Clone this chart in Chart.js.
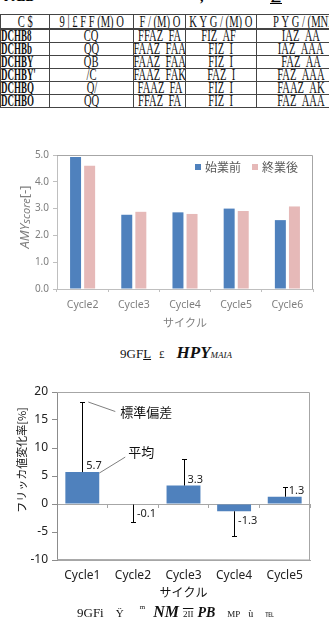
<!DOCTYPE html>
<html lang="ja">
<head>
<meta charset="UTF-8">
<title>AMY score / フリッカ値変化率</title>
<style>
  body { margin: 0; width: 329px; height: 624px; overflow: hidden; background: #fff; position: relative; }
  canvas { position: absolute; left: 0; }
  #amyChart { top: 138px; }
  #flickerChart { top: 380px; }
  .tbl { position: absolute; left: 0; top: 14px; width: 345px; border-collapse: collapse; table-layout: fixed;
         font-family: "Liberation Serif", serif; font-size: 16px; color: #111; }
  .tbl td { border: 1px solid #444; height: 12px; padding: 0; line-height: 12px; text-align: center; overflow: hidden; white-space: nowrap; }
  .tbl tr.head td { height: 13px; border-bottom: 2px solid #444; }
  .tbl span { display: inline-block; margin: 0 -40px; transform: scaleX(0.66); }
  .tbl td.l { text-align: left; }
  .tbl td.l span { margin: 0 -40px 0 0; transform-origin: left center; transform: scaleX(0.56); font-weight: bold; }
  .cap { position: absolute; font-family: "Liberation Serif", serif; color: #111; white-space: nowrap; }
  .top { position: absolute; top: -11px; font-family: "Liberation Serif", serif; font-size: 14px; font-weight: bold; }
</style>
</head>
<body>
<div class="top" style="left:4px">ï ÆD</div>
<div class="top" style="left:200px">,</div>
<div class="top" style="left:270px;text-decoration:underline">∠</div>

<table class="tbl">
  <colgroup><col style="width:49px"><col style="width:84px"><col style="width:52px"><col style="width:71px"><col style="width:89px"></colgroup>
  <tr class="head"><td><span>C&nbsp;$</span></td><td><span>9&nbsp;|&nbsp;£&nbsp;F&nbsp;F&nbsp;(M)&nbsp;Ö</span></td><td><span>F&nbsp;/&nbsp;(M)&nbsp;Ö</span></td><td><span>K&nbsp;Y&nbsp;G&nbsp;/&nbsp;(M)&nbsp;Ö</span></td><td class="l" style="padding-left:16px"><span style="font-weight:normal;transform:scaleX(0.66)">P&nbsp;Y&nbsp;G&nbsp;/&nbsp;(MNI</span></td></tr>
  <tr><td class="l"><span>DCHB8</span></td><td><span>CQ</span></td><td><span>FFAZ_FA</span></td><td><span>FIZ_AF_</span></td><td><span>IAZ_AA</span></td></tr>
  <tr><td class="l"><span>DCHBb</span></td><td><span>QQ</span></td><td><span>FAAZ_FAA</span></td><td><span>FIZ_I</span></td><td><span>IAZ_AAA</span></td></tr>
  <tr><td class="l"><span>DCHBY</span></td><td><span>QB</span></td><td><span>FAAZ_FAA</span></td><td><span>FIZ_I</span></td><td><span>FAZ_AA</span></td></tr>
  <tr><td class="l"><span>DCHBY'</span></td><td><span>/C</span></td><td><span>FAAZ_FAK</span></td><td><span>FAZ_I</span></td><td><span>FAZ_AAA</span></td></tr>
  <tr><td class="l"><span>DCHBQ</span></td><td><span>Q/</span></td><td><span>FAAZ_FA</span></td><td><span>FIZ_I</span></td><td><span>FAAZ_AK</span></td></tr>
  <tr><td class="l"><span>DCHBO</span></td><td><span>QQ</span></td><td><span>FFAZ_FA</span></td><td><span>FIZ_I</span></td><td><span>FAZ_AAA</span></td></tr>
</table>

<canvas id="amyChart" width="329" height="194"></canvas>
<div class="cap" style="left:120px;top:343px"><span style="font-size:13px">9GF<u>L</u></span>&nbsp;&nbsp;<span style="font-size:11px">£</span>&nbsp;&nbsp;&nbsp;<b><i style="font-size:17px">HPY</i></b><i style="font-size:9px">MAIA</i></div>

<canvas id="flickerChart" width="329" height="224"></canvas>
<div class="cap" style="left:77px;top:603px"><span style="font-size:13px">9GFi</span>&nbsp;&nbsp;&nbsp;<span style="font-size:11px">Ÿ</span>&nbsp;&nbsp;&nbsp;&nbsp;<span style="font-size:7px;vertical-align:top">m</span>&nbsp;&nbsp;<b><i style="font-size:16px">NM</i></b>&nbsp;<span style="font-size:9px;text-decoration:overline">2II</span>&nbsp;<b><i style="font-size:14px">PB</i></b>&nbsp;&nbsp;&nbsp;<span style="font-size:9px">MP</span>&nbsp;&nbsp;<span style="font-size:10px">ù</span>&nbsp;&nbsp;&nbsp;<span style="font-size:9px">℡</span></div>

<script src="https://cdn.jsdelivr.net/npm/chart.js"></script>
<script>
    // AMY score
    const cycles1 = ['Cycle2', 'Cycle3', 'Cycle4', 'Cycle5', 'Cycle6'];
    const amyBefore = [4.93, 2.77, 2.86, 3.0, 2.57];
    const amyAfter = [4.6, 2.88, 2.8, 2.91, 3.08];
    const amyLabels = ['始業前', '終業後'];

    // フリッカ値変化率
    const cycles2 = ['Cycle1', 'Cycle2', 'Cycle3', 'Cycle4', 'Cycle5'];
    const flickerMean = [5.7, -0.1, 3.3, -1.3, 1.3];
    const flickerSd = [12.6, 3.1, 4.7, 4.4, 1.7];

    const fontSans = "'Noto Sans', 'Noto Sans CJK JP', sans-serif";
    const fontJp = "'Noto Sans CJK JP', 'Noto Sans', sans-serif";
    const blue = '#4f81bd';
    const pink = '#e6b9b8';

    function drawRotated(ctx, parts, cx, cy, color) {
        ctx.save();
        ctx.translate(cx, cy);
        ctx.rotate(-Math.PI / 2);
        let total = 0;
        parts.forEach(p => { ctx.font = p.f; p.w = ctx.measureText(p.t).width; total += p.w; });
        let x = -total / 2;
        ctx.fillStyle = color;
        ctx.textBaseline = 'middle';
        parts.forEach(p => { ctx.font = p.f; ctx.fillText(p.t, x, p.dy || 0); x += p.w; });
        ctx.restore();
    }

    const plotBox = {
        id: 'plotBox',
        afterDraw(chart, args, opts) {
            const {ctx, chartArea: a} = chart;
            ctx.save();
            ctx.strokeStyle = opts.color;
            ctx.lineWidth = 1;
            ctx.beginPath();
            ctx.moveTo(a.left, a.top + 0.5);
            ctx.lineTo(a.right - 0.5, a.top + 0.5);
            ctx.lineTo(a.right - 0.5, a.bottom);
            if (opts.bottom) ctx.lineTo(a.left, a.bottom - 0.5);
            ctx.stroke();
            ctx.restore();
        }
    };

    const cornerLegend = {
        id: 'cornerLegend',
        afterDraw(chart) {
            const {ctx, chartArea: a} = chart;
            ctx.save();
            ctx.font = '12px ' + fontJp;
            ctx.textBaseline = 'middle';
            const y = a.top + 12;
            let x = a.right - 15;
            chart.data.datasets.slice().reverse().forEach(ds => {
                const w = ctx.measureText(ds.label).width;
                x -= w;
                ctx.fillStyle = '#595959';
                ctx.fillText(ds.label, x, y);
                x -= 10;
                ctx.fillStyle = ds.backgroundColor;
                ctx.fillRect(x, y - 3, 6, 6);
                x -= 11;
            });
            ctx.restore();
        }
    };

    const amyTitle = {
        id: 'amyTitle',
        afterDraw(chart) {
            const a = chart.chartArea;
            drawRotated(chart.ctx, [
                {t: 'AMY', f: 'italic 13px ' + fontSans},
                {t: 'score', f: 'italic 11px ' + fontSans, dy: 2},
                {t: '[-]', f: '13px ' + fontSans}
            ], 25, (a.top + a.bottom) / 2 - 5, '#7f7f7f');
        }
    };

    new Chart(document.getElementById('amyChart'), {
        type: 'bar',
        data: {
            labels: cycles1,
            datasets: [
                { label: amyLabels[0], data: amyBefore, backgroundColor: blue },
                { label: amyLabels[1], data: amyAfter, backgroundColor: pink }
            ]
        },
        options: {
            responsive: false,
            animation: false,
            devicePixelRatio: 1,
            layout: { padding: { top: 17, right: 16, left: 0, bottom: 0 } },
            datasets: { bar: { categoryPercentage: 0.55, barPercentage: 0.78 } },
            plugins: {
                legend: { display: false },
                tooltip: { enabled: false },
                plotBox: { color: '#a6a6a6' }
            },
            scales: {
                x: {
                    grid: { offset: true, drawOnChartArea: false, tickLength: 3, color: '#bfbfbf' },
                    border: { color: '#bfbfbf' },
                    ticks: { color: '#7f7f7f', font: { size: 10.5, family: fontSans }, padding: 7 },
                    title: { display: true, text: 'サイクル', color: '#7f7f7f', font: { size: 11, family: fontJp }, padding: { top: 0, bottom: 3 } },
                    afterFit: s => { s.height = 43; }
                },
                y: {
                    min: 0, max: 5,
                    grid: { drawOnChartArea: false, tickLength: 4, color: '#bfbfbf' },
                    border: { color: '#bfbfbf' },
                    ticks: { stepSize: 1, color: '#7f7f7f', font: { size: 10, family: fontSans }, padding: 4,
                             callback: v => v.toFixed(1) },
                    afterFit: s => { s.width = 57; }
                }
            }
        },
        plugins: [plotBox, cornerLegend, amyTitle]
    });

    const errorBars = {
        id: 'errorBars',
        afterDatasetsDraw(chart) {
            const {ctx, scales: {y}} = chart;
            const meta = chart.getDatasetMeta(0);
            ctx.save();
            ctx.strokeStyle = '#000';
            ctx.lineWidth = 1;
            meta.data.forEach((bar, i) => {
                const m = flickerMean[i], sd = flickerSd[i];
                const end = Math.round(y.getPixelForValue(m >= 0 ? m + sd : m - sd)) + 0.5;
                const x = Math.round(bar.x) + 0.5;
                ctx.beginPath();
                ctx.moveTo(x, bar.y);
                ctx.lineTo(x, end);
                ctx.moveTo(x - 2.5, end);
                ctx.lineTo(x + 2.5, end);
                ctx.stroke();
            });
            // data labels
            ctx.fillStyle = '#222';
            ctx.font = '11px ' + fontSans;
            ctx.textBaseline = 'middle';
            meta.data.forEach((bar, i) => {
                const m = flickerMean[i];
                const ty = m >= 0 ? bar.y - 6 : bar.y + 9.5;
                ctx.fillText(m.toFixed(1), bar.x + 4, ty);
            });
            // notes
            const b0 = meta.data[0];
            const errTop = y.getPixelForValue(flickerMean[0] + flickerSd[0]);
            const barRight = b0.x + b0.width / 2;
            ctx.strokeStyle = '#7f7f7f';
            ctx.beginPath();
            ctx.moveTo(b0.x + 6, errTop + 0.5);
            ctx.lineTo(b0.x + 33, errTop + 10);
            ctx.moveTo(barRight, b0.y + 1);
            ctx.lineTo(barRight + 26, b0.y - 15);
            ctx.stroke();
            ctx.fillStyle = '#111';
            ctx.font = '13px ' + fontJp;
            ctx.fillText('標準偏差', b0.x + 38, errTop + 11);
            ctx.fillText('平均', barRight + 29, b0.y - 20);
            ctx.restore();
        }
    };

    const flickerTitle = {
        id: 'flickerTitle',
        afterDraw(chart) {
            const a = chart.chartArea;
            drawRotated(chart.ctx, [{t: 'フリッカ値変化率[%]', f: '11px ' + fontJp}],
                22, (a.top + a.bottom) / 2 - 16, '#111');
        }
    };

    new Chart(document.getElementById('flickerChart'), {
        type: 'bar',
        data: {
            labels: cycles2,
            datasets: [{ label: 'フリッカ値変化率', data: flickerMean, backgroundColor: blue }]
        },
        options: {
            responsive: false,
            animation: false,
            devicePixelRatio: 1,
            layout: { padding: { top: 12, right: 19, left: 0, bottom: 0 } },
            datasets: { bar: { categoryPercentage: 1, barPercentage: 0.67 } },
            plugins: {
                legend: { display: false },
                tooltip: { enabled: false },
                plotBox: { color: '#a6a6a6', bottom: true }
            },
            scales: {
                x: {
                    grid: { display: false, drawTicks: false },
                    border: { color: '#a6a6a6' },
                    ticks: { color: '#222', font: { size: 12, family: fontSans }, padding: 8 },
                    title: { display: true, text: 'サイクル', color: '#111', font: { size: 12, family: fontJp }, padding: { top: 0, bottom: 4 } },
                    afterFit: s => { s.height = 44; }
                },
                x2: {
                    type: 'category',
                    labels: cycles2,
                    position: { y: 0 },
                    offset: true,
                    grid: { offset: true, drawOnChartArea: false, tickLength: 3, color: '#a6a6a6' },
                    border: { color: '#a6a6a6' },
                    ticks: { display: false }
                },
                y: {
                    min: -10, max: 20,
                    grid: { drawOnChartArea: false, tickLength: 5, color: '#8c8c8c' },
                    border: { color: '#8c8c8c' },
                    ticks: { stepSize: 5, color: '#222', font: { size: 12, family: fontSans }, padding: 4 },
                    afterFit: s => { s.width = 57; }
                }
            }
        },
        plugins: [plotBox, errorBars, flickerTitle]
    });
</script>
</body>
</html>
